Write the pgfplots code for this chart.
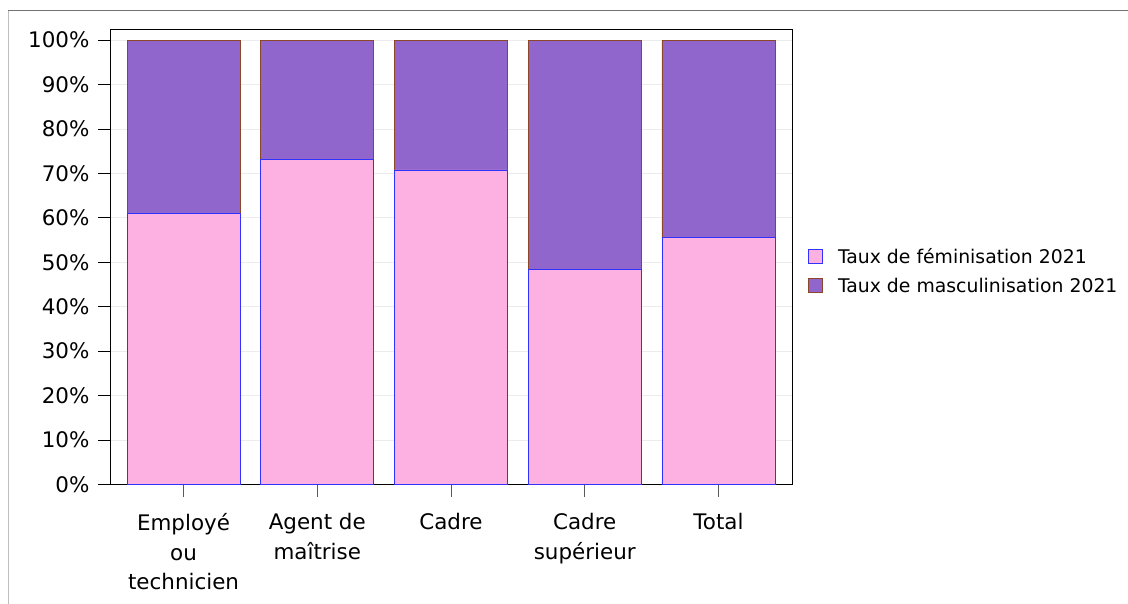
\documentclass[border=0pt]{standalone}
\usepackage{pgfplots}
\pgfplotsset{compat=1.18}
\usepackage{fontspec}
\setmainfont{DejaVu Sans}
\definecolor{pinkf}{RGB}{252,177,226}
\definecolor{purplef}{RGB}{145,102,204}
\definecolor{blueb}{RGB}{50,50,255}
\definecolor{brownb}{RGB}{140,70,40}
\definecolor{gridc}{RGB}{236,236,236}
\begin{document}
\begin{tikzpicture}
\useasboundingbox (0,0) rectangle (1128bp,604bp);
\draw[color={rgb,255:red,190;green,190;blue,190}, line width=1bp] (8bp,0) -- (8bp,593bp);
\draw[color={rgb,255:red,115;green,115;blue,115}, line width=1bp] (7.5bp,593bp) -- (1128bp,593bp);
\begin{axis}[
  at={(110bp,119.5bp)}, anchor=south west,
  scale only axis, width=682bp, height=455bp,
  ybar stacked, bar width=113bp,
  xmin=-0.55, xmax=4.55, ymin=0, ymax=102.4,
  xtick={0,1,2,3,4},
  xticklabels={Employé\\ou\\technicien, Agent de\\maîtrise, Cadre, Cadre\\supérieur, Total},
  xticklabel style={align=center, font=\fontsize{21.5}{30}\selectfont, yshift=-13bp},
  ytick={0,10,...,100},
  yticklabel={\pgfmathprintnumber{\tick}\%},
  yticklabel style={font=\fontsize{21.5}{24}\selectfont, xshift=-5bp},
  /pgf/number format/assume math mode=true,
  tick align=outside, major tick length=12bp,
  xtick pos=left, ytick pos=left,
  x tick style={color={rgb,255:red,90;green,90;blue,90}, line width=1bp},
  y tick style={black, line width=1bp},
  ymajorgrids, grid style={gridc, line width=1bp},
  axis line style={black, line width=1bp},
  legend style={at={(1,0.469)}, anchor=west, xshift=16bp, draw=none, fill=none,
    font=\fontsize{18.9}{22}\selectfont, row sep=13bp, column sep=0pt, inner sep=0pt,
    nodes={inner sep=0pt}},
  legend cell align=left,
]
\addplot[fill=pinkf, draw=blueb, line width=0.8bp,
  legend image code/.code={\draw[fill=pinkf, draw=blueb, line width=0.8bp] (0bp,-7bp) rectangle (14bp,7bp); \path (29bp,0);}]
  coordinates {(0,61.1) (1,73.2) (2,70.8) (3,48.4) (4,55.5)};
\addplot[fill=purplef, draw=brownb, line width=0.8bp,
  legend image code/.code={\draw[fill=purplef, draw=brownb, line width=0.8bp] (0bp,-7bp) rectangle (14bp,7bp); \path (29bp,0);}]
  coordinates {(0,38.9) (1,26.8) (2,29.2) (3,51.6) (4,44.5)};
\legend{Taux de féminisation 2021, Taux de masculinisation 2021}
\end{axis}
\end{tikzpicture}
\end{document}
